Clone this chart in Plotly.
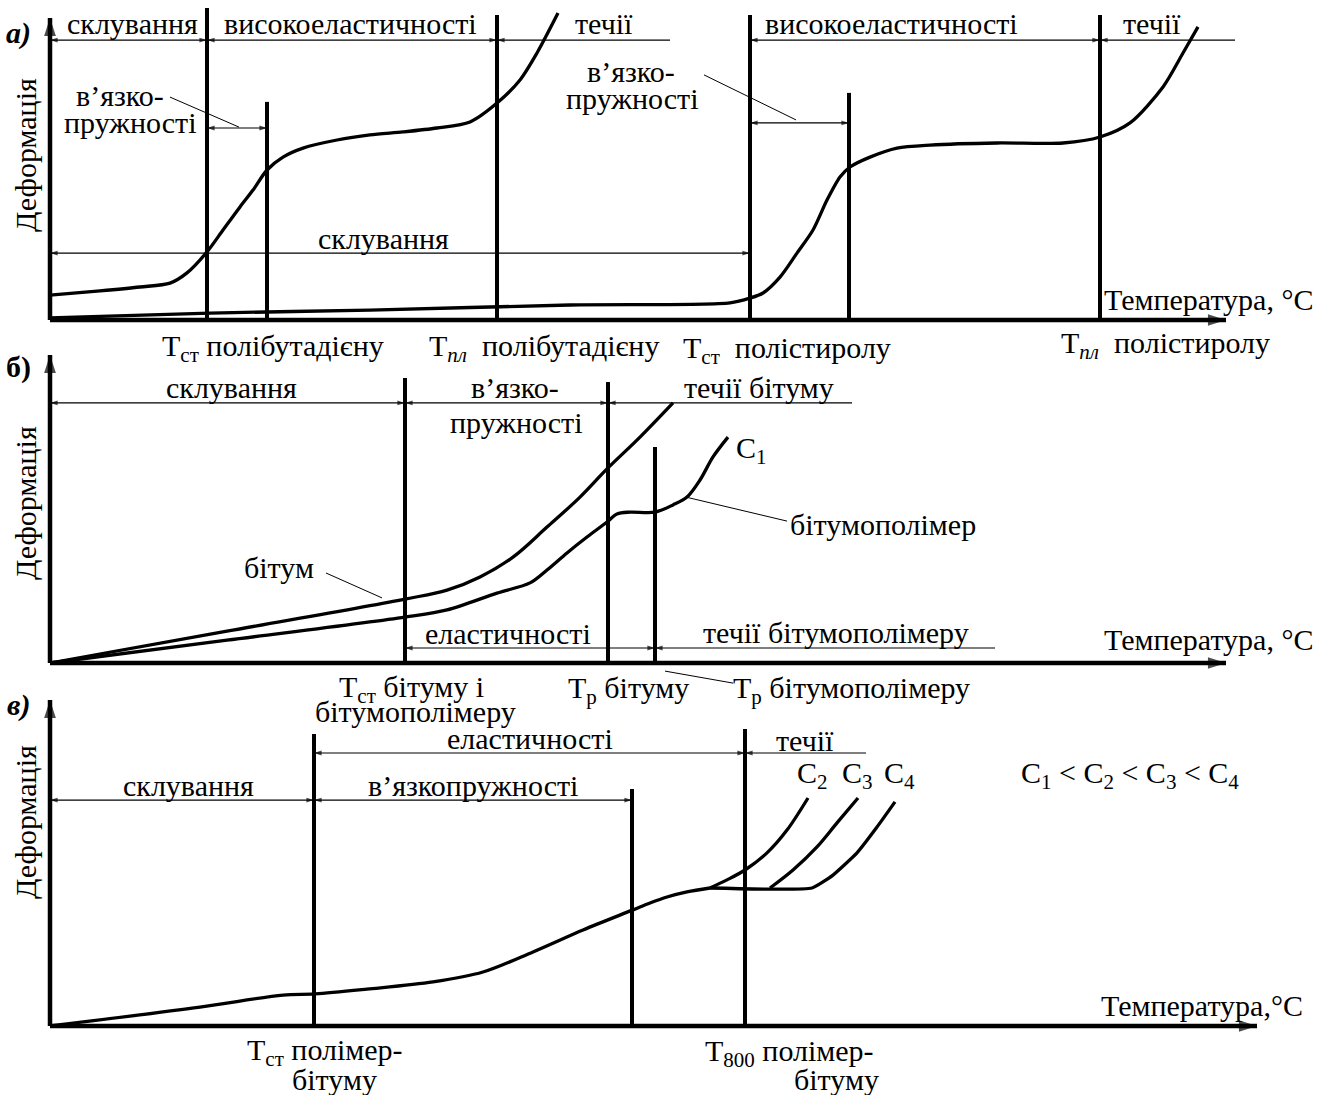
import plotly.graph_objects as go

FONT = "Liberation Serif"
FS = 30

# Temperature is in arbitrary units T, deformation in arbitrary units D.
# Scale: 10 px per T unit, 3 px per D unit; each panel has its own baseline.
PX_T = 10.0
PX_D = 3.0
W, H = 1333, 1095
X0_PX = 50
BASE_PX = {"y": 320, "y2": 663, "y3": 1026}

# ---------------- panel a) polybutadiene / polystyrene ----------------
a_pb_T = [0, 5, 9, 12, 13.7, 15.7, 17.3, 19, 20.3, 21.7, 23.3, 25.3, 28.7, 32, 35.3, 38.7, 42, 44.7, 47, 48.7, 50.8]
a_pb_D = [8.3, 9.7, 11, 12.3, 15.7, 22.7, 30, 37.7, 43.3, 50, 54.3, 57.3, 60, 61.7, 62.7, 64, 66, 72.3, 80, 89, 102.3]
a_ps_T = [0, 16, 32, 52, 68, 70, 71.3, 73, 74.7, 76.3, 77.7, 79, 80, 82, 84.7, 88, 94.7, 101.3, 105, 108, 111.3, 113.3, 114.8]
a_ps_D = [0.7, 2.3, 3.3, 5, 5.7, 7.3, 9, 14.3, 22.3, 30, 40, 47.7, 51, 54.3, 57.3, 58.3, 59, 59, 61, 65.7, 77.7, 89, 97.7]
a_lines_T = [15.7, 21.7, 44.7, 70.0, 79.9, 105.0]
a_lines_top = [104, 72.7, 101.7, 101.7, 75.7, 101.7]

# ---------------- panel б) bitumen / bitumen-polymer ----------------
b_bit_T = [0, 17.7, 35.5, 39.7, 43, 46.3, 49.7, 53, 55.7, 59, 62.3]
b_bit_D = [0, 10.6, 21.3, 24.3, 28.7, 35.3, 45.3, 55.3, 64.7, 75.3, 86.7]
b_bp_T = [0, 17.7, 35.5, 39.7, 44.7, 48, 49.7, 51.7, 53.7, 55.7, 56.7, 58, 60.5, 62.3, 63.7, 65, 66.3, 67.8]
b_bp_D = [0, 7.6, 15.3, 17.7, 23.3, 26.7, 31, 36.7, 42, 47, 49.7, 50.3, 50.3, 52.7, 55.3, 61, 68.7, 75.3]
b_lines_T = [35.5, 55.8, 60.5]
b_lines_top = [95, 93.7, 72]

# ---------------- panel в) polymer-bitumen, concentrations C2..C4 ----------------
c_main_T = [0, 15, 23.3, 26.5, 31.7, 38.3, 43.3, 48.3, 53.3, 58.3, 60, 61.7, 63.7, 66]
c_main_D = [0, 6.3, 10.3, 10.7, 12.3, 14.7, 18, 24.7, 32, 38.7, 41, 43, 44.7, 46]
c2_T = [66, 67.7, 69.5, 71.7, 73.7, 75.8]
c2_D = [46, 48.7, 52, 57.7, 65.3, 76]
c3_T = [72, 74.3, 76.7, 78.7, 80.8]
c3_D = [46, 52, 59.7, 67.7, 76]
c4_T = [66, 76.2, 78.3, 80.7, 82.7, 84.5]
c4_D = [46, 46, 50.3, 57.7, 66.3, 74.7]
c_lines_T = [26.4, 58.2, 69.5]
c_lines_top = [97.3, 79, 99]

fig = go.Figure()


def curve(T, D, yax, width=3.3, smooth=0.6):
    fig.add_trace(go.Scatter(x=T, y=D, yaxis=yax, mode="lines",
                             line=dict(color="black", width=width, shape="spline", smoothing=smooth),
                             hoverinfo="skip"))


def straight(T, D, yax, width=1.0):
    fig.add_trace(go.Scatter(x=T, y=D, yaxis=yax, mode="lines",
                             line=dict(color="black", width=width), hoverinfo="skip"))


def vlines(Ts, tops, yax):
    for t, top in zip(Ts, tops):
        straight([t, t], [0, top], yax, width=4)


def arrowline(T, D, yax, angles, sizes, width):
    # line with arrow-shaped markers; a zero size leaves that end plain
    fig.add_trace(go.Scatter(x=T, y=D, yaxis=yax, mode="lines+markers",
                             line=dict(color="black", width=width),
                             marker=dict(symbol="arrow", angle=angles, angleref="up", size=sizes,
                                         color="black", line=dict(width=0)),
                             hoverinfo="skip"))


def span(T0, T1, D, yax, both=True, head=8):
    # horizontal dimension line; the start end always carries an arrowhead
    arrowline([T0, T1], [D, D], yax, [270, 90], [head, head if both else 0], 1.2)


def axes(yax, x_end, y_top):
    arrowline([0, x_end], [0, 0], yax, [0, 90], [0, 19], 4.5)
    arrowline([0, 0], [0, y_top], yax, [0, 0], [0, 19], 4.5)


def label(x, y, s, yax, xanchor="center", size=FS, angle=0):
    fig.add_annotation(x=x, y=y, xref="x", yref=yax, text=s, showarrow=False,
                       xanchor=xanchor, yanchor="middle", textangle=angle,
                       font=dict(family=FONT, size=size, color="black"))


# ---------- a) ----------
axes("y", 117.6, 100.7)
vlines(a_lines_T, a_lines_top, "y")
curve(a_pb_T, a_pb_D, "y", smooth=0.8)
curve(a_ps_T, a_ps_D, "y", smooth=0.8)
span(0, 15.7, 93.3, "y")
span(15.7, 44.7, 93.3, "y")
span(44.7, 62, 93.3, "y", both=False)
span(70, 105, 93.3, "y")
span(105, 118.5, 93.3, "y", both=False)
span(15.7, 21.7, 64, "y")
span(70, 79.9, 65.7, "y")
span(0, 70, 22.3, "y")
straight([12, 18.9], [74.3, 64.3], "y")
straight([65.4, 74.6], [81.7, 66.7], "y")
label(8.2, 98.7, "склування", "y")
label(30, 98.7, "високоеластичності", "y")
label(55.4, 98.7, "течії", "y")
label(84.1, 98.7, "високоеластичності", "y")
label(110.2, 98.7, "течії", "y")
label(7.0, 75, "в’язко-", "y")
label(8.0, 65.7, "пружності", "y")
label(58.1, 82.7, "в’язко-", "y")
label(58.2, 74, "пружності", "y")
label(33.3, 27.3, "склування", "y")
label(-3.2, 95.7, "<b><i>а)</i></b>", "y")
label(-2.5, 55, "Деформація", "y", angle=-90)
label(126.5, 6.7, "Температура, °C", "y", xanchor="right")
label(22.3, -9.3, "T<sub>ст</sub> полібутадієну", "y")
label(49.4, -9.3, "T<sub><i>пл</i></sub>  полібутадієну", "y")
label(73.7, -10, "T<sub>ст</sub>  полістиролу", "y")
label(111.5, -8.3, "T<sub><i>пл</i></sub>  полістиролу", "y")

# ---------- б) ----------
axes("y2", 117.6, 102.7)
vlines(b_lines_T, b_lines_top, "y2")
curve(b_bit_T, b_bit_D, "y2", smooth=1.0)
curve(b_bp_T, b_bp_D, "y2", smooth=0.9)
span(0, 35.5, 86.7, "y2")
span(35.5, 55.8, 86.7, "y2")
span(55.8, 80.2, 86.7, "y2", both=False)
span(35.5, 60.5, 5, "y2")
span(60.5, 94.5, 5, "y2", both=False)
straight([27.6, 33.2], [30, 21.7], "y2")
straight([63.6, 73.7], [55.3, 47.3], "y2")
straight([61.5, 68.3], [-2.7, -6.7], "y2")
label(18.1, 91.7, "склування", "y2")
label(46.5, 91.7, "в’язко-", "y2")
label(46.6, 80.3, "пружності", "y2")
label(70.9, 91.7, "течії бітуму", "y2")
label(45.8, 10, "еластичності", "y2")
label(78.6, 10.3, "течії бітумополімеру", "y2")
label(22.9, 32, "бітум", "y2")
label(83.3, 46.3, "бітумополімер", "y2")
label(70.1, 71, "C<sub>1</sub>", "y2")
label(-3.2, 98.7, "<b>б)</b>", "y2")
label(-2.5, 53.3, "Деформація", "y2", angle=-90)
label(126.5, 7.7, "Температура, °C", "y2", xanchor="right")
label(36.1, -8.7, "T<sub>ст</sub> бітуму і", "y2")
label(36.5, -16.3, "бітумополімеру", "y2")
label(57.8, -9, "T<sub>р</sub> бітуму", "y2")
label(80.1, -9, "T<sub>р</sub> бітумополімеру", "y2")

# ---------- в) ----------
axes("y3", 120.7, 108.7)
vlines(c_lines_T, c_lines_top, "y3")
curve(c_main_T, c_main_D, "y3", smooth=0.9)
curve(c2_T, c2_D, "y3", smooth=0.9)
curve(c3_T, c3_D, "y3", smooth=0.9)
curve(c4_T, c4_D, "y3", smooth=0.4)
span(26.4, 69.5, 91, "y3")
span(69.5, 81.6, 91, "y3", both=False)
span(0, 26.4, 75.3, "y3")
span(26.4, 58.2, 75.3, "y3")
label(48, 96, "еластичності", "y3")
label(75.5, 95.3, "течії", "y3")
label(13.8, 80.3, "склування", "y3")
label(42.3, 80.3, "в’язкопружності", "y3")
label(76.2, 83.7, "C<sub>2</sub>", "y3")
label(80.7, 83.7, "C<sub>3</sub>", "y3")
label(84.9, 83.7, "C<sub>4</sub>", "y3")
label(108, 83.7, "C<sub>1</sub> &lt; C<sub>2</sub> &lt; C<sub>3</sub> &lt; C<sub>4</sub>", "y3")
label(-3.2, 107, "<b><i>в)</i></b>", "y3")
label(-2.5, 68, "Деформація", "y3", angle=-90)
label(125.5, 7, "Температура,°C", "y3", xanchor="right")
label(27.5, -8.7, "T<sub>ст</sub> полімер-", "y3")
label(28.4, -17.7, "бітуму", "y3")
label(73.9, -9, "T<sub>800</sub> полімер-", "y3")
label(78.6, -17.7, "бітуму", "y3")


def yrange(key):
    base = BASE_PX[key]
    return [(base - H) / PX_D, base / PX_D]


x_range = [-X0_PX / PX_T, (W - X0_PX) / PX_T]
hidden = dict(visible=False, showgrid=False, zeroline=False, fixedrange=True)

fig.update_layout(
    width=W, height=H, margin=dict(l=0, r=0, t=0, b=0),
    paper_bgcolor="white", plot_bgcolor="white", showlegend=False,
    xaxis=dict(range=x_range, domain=[0, 1], **hidden),
    yaxis=dict(range=yrange("y"), domain=[0, 1], **hidden),
    yaxis2=dict(range=yrange("y2"), domain=[0, 1], overlaying="y", **hidden),
    yaxis3=dict(range=yrange("y3"), domain=[0, 1], overlaying="y", **hidden),
)

fig.write_html("out.html")
